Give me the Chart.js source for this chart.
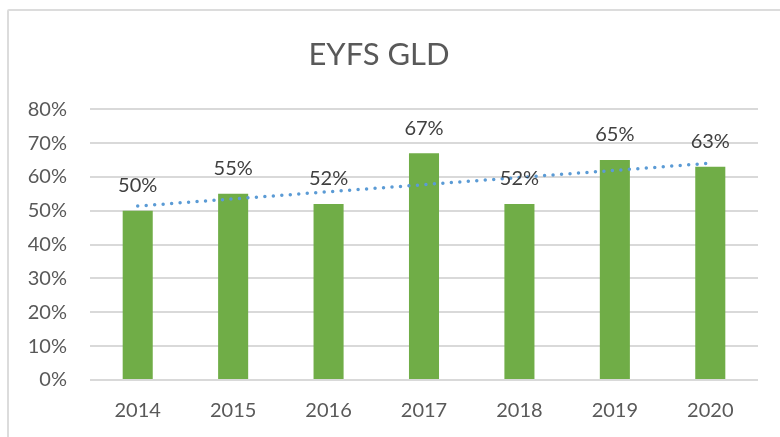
<!DOCTYPE html>
<html>
<head>
<meta charset="utf-8">
<script src="https://cdn.jsdelivr.net/npm/chart.js@4.4.1/dist/chart.umd.min.js"></script>
<style>
    html, body { margin: 0; padding: 0; background: #fff; overflow: hidden; }
    #wrap { position: relative; width: 780px; height: 437px; }
    #frame {
        position: absolute; left: 7px; top: 9px; width: 800px; height: 500px;
        border: 2px solid #dcdcdc; border-radius: 2px; box-sizing: border-box;
    }
    canvas { position: absolute; left: 0; top: 0; }
</style>
</head>
<body>
<div id="wrap">
    <div id="frame"></div>
    <canvas id="chart" width="780" height="437"></canvas>
</div>
<script>
// EYFS GLD – % of pupils reaching a good level of development
const years = ["2014", "2015", "2016", "2017", "2018", "2019", "2020"];
const gldPct = [50, 55, 52, 67, 52, 65, 63];
const yTicks = [0, 10, 20, 30, 40, 50, 60, 70, 80];

// linear trendline (least squares), like Excel's "Linear" trendline
function linearTrend(values) {
    const n = values.length;
    const mx = (n - 1) / 2;
    const my = values.reduce((a, b) => a + b, 0) / n;
    let sxy = 0, sxx = 0;
    values.forEach((v, i) => { sxy += (i - mx) * (v - my); sxx += (i - mx) ** 2; });
    const slope = sxy / sxx;
    return values.map((_, i) => my + slope * (i - mx));
}

const FONT = "Lato, 'Open Sans', 'Liberation Sans', sans-serif";

const barLabels = {
    id: "barLabels",
    afterDatasetsDraw(chart) {
        const meta = chart.getDatasetMeta(0);
        const ctx = chart.ctx;
        ctx.save();
        ctx.font = `20px ${FONT}`;
        ctx.fillStyle = "#404040";
        ctx.textAlign = "center";
        ctx.textBaseline = "middle";
        meta.data.forEach((bar, i) => {
            ctx.fillText(`${gldPct[i]}%`, bar.x, bar.y - 25);
        });
        ctx.restore();
    },
};

new Chart(document.getElementById("chart"), {
    type: "bar",
    data: {
        labels: years,
        datasets: [
            {
                label: "GLD",
                data: gldPct,
                backgroundColor: "#70ad47",
                borderWidth: 0,
                barPercentage: 0.315,
                categoryPercentage: 1,
                order: 1,
            },
            {
                type: "line",
                label: "Linear (GLD)",
                data: linearTrend(gldPct),
                borderColor: "#5b9bd5",
                borderWidth: 3.5,
                borderDash: [0, 8.5],
                borderCapStyle: "round",
                pointRadius: 0,
                tension: 0,
                fill: false,
                order: 0,
            },
        ],
    },
    options: {
        responsive: false,
        animation: false,
        layout: { padding: { left: 0, right: 22, top: 0, bottom: 14 } },
        plugins: {
            legend: { display: false },
            tooltip: { enabled: false },
            title: {
                display: true,
                text: "EYFS GLD",
                color: "#595959",
                font: { family: FONT, size: 31, weight: "normal", lineHeight: 1.2 },
                padding: { top: 36, bottom: 36 },
            },
        },
        scales: {
            x: {
                afterFit: (scale) => { scale.height = 43; },
                grid: { display: false, drawTicks: false },
                border: { display: false },
                ticks: { color: "#595959", font: { family: FONT, size: 20 }, padding: 19 },
            },
            y: {
                min: 0,
                max: 80,
                afterFit: (scale) => { scale.width = 90; },
                afterBuildTicks: (scale) => { scale.ticks = yTicks.map((v) => ({ value: v })); },
                grid: { color: "#d9d9d9", lineWidth: 2, drawTicks: false },
                border: { display: false },
                ticks: {
                    color: "#595959",
                    font: { family: FONT, size: 20 },
                    padding: 23,
                    callback: (v) => `${v}%`,
                },
            },
        },
    },
    plugins: [barLabels],
});
</script>
</body>
</html>
